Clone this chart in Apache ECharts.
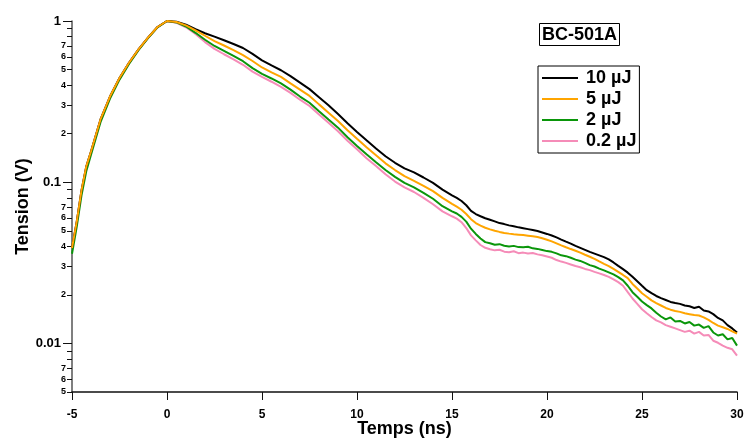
<!DOCTYPE html>
<html>
<head>
<meta charset="utf-8">
<script src="https://cdn.jsdelivr.net/npm/echarts@6/dist/echarts.min.js"></script>
<style>html,body{margin:0;padding:0;background:#fff;}#chart{width:744px;height:438px;}</style>
</head>
<body>
<div id="chart"></div>
<script>
// ---- data ----
const seriesNames = ['10 µJ', '5 µJ', '2 µJ', '0.2 µJ'];
const seriesColors = ['#000000', '#ffa500', '#0a960a', '#f58cb8'];
const timeNs = [-5, -4.75, -4.5, -4.25, -4, -3.5, -3, -2.5, -2, -1.5, -1, -0.5, 0,
  0.5, 1, 1.5, 2, 2.5, 3, 3.5, 4, 4.5, 5, 5.5, 6, 6.5, 7, 7.5, 8, 8.5, 9, 9.5, 10,
  10.5, 11, 11.5, 12, 12.5, 13, 13.5, 14, 14.5, 15,
  15.25, 15.5, 15.75, 16, 16.25, 16.5, 16.75, 17, 17.25, 17.5, 17.75, 18, 18.25, 18.5, 18.75, 19,
  19.25, 19.5, 19.75, 20, 20.25, 20.5, 20.75, 21, 21.25, 21.5, 21.75, 22, 22.25, 22.5, 22.75, 23,
  23.25, 23.5, 23.75, 24, 24.25, 24.5, 24.75, 25, 25.25, 25.5, 25.75, 26, 26.25, 26.5, 26.75, 27,
  27.25, 27.5, 27.75, 28, 28.25, 28.5, 28.75, 29, 29.25, 29.5, 29.75, 30];
const v10uJ = [0.039, 0.057, 0.089, 0.125, 0.155, 0.245, 0.340, 0.443, 0.551, 0.667, 0.788, 0.918, 1.0,
  0.99, 0.95, 0.89, 0.84, 0.80, 0.76, 0.72, 0.68, 0.625, 0.57, 0.53, 0.495, 0.455, 0.415, 0.378, 0.337, 0.30, 0.265, 0.232, 0.205,
  0.182, 0.162, 0.145, 0.132, 0.122, 0.115, 0.107, 0.099, 0.090, 0.083,
  0.080, 0.0765, 0.072, 0.0665, 0.0635, 0.0615, 0.0598, 0.0585, 0.0572, 0.0558, 0.0550, 0.0540, 0.0533, 0.0525, 0.0519, 0.0512,
  0.0505, 0.0498, 0.0488, 0.0478, 0.0467, 0.0455, 0.0441, 0.0428, 0.0416, 0.0403, 0.0392, 0.0381, 0.0370, 0.0361, 0.0352, 0.0343,
  0.0332, 0.0318, 0.0303, 0.0289, 0.0275, 0.0259, 0.0243, 0.0228, 0.0214, 0.0205, 0.0197, 0.0191, 0.0186, 0.0181, 0.0178, 0.0176,
  0.0172, 0.0170, 0.0166, 0.0169, 0.0160, 0.0158, 0.0152, 0.0144, 0.0139, 0.0130, 0.0124, 0.0117];
const v5uJ = [0.039, 0.057, 0.089, 0.125, 0.155, 0.245, 0.340, 0.443, 0.551, 0.667, 0.788, 0.918, 1.0,
  0.985, 0.94, 0.875, 0.81, 0.75, 0.705, 0.66, 0.615, 0.565, 0.515, 0.48, 0.45, 0.41, 0.375, 0.343, 0.304, 0.27, 0.24, 0.21, 0.186,
  0.165, 0.147, 0.131, 0.119, 0.109, 0.102, 0.095, 0.088, 0.080, 0.0735,
  0.0705, 0.0675, 0.0635, 0.059, 0.0558, 0.0538, 0.0522, 0.051, 0.0500, 0.0492, 0.0485, 0.0480, 0.0476, 0.0473, 0.0470, 0.0466,
  0.0462, 0.0457, 0.0449, 0.0440, 0.0430, 0.0418, 0.0406, 0.0395, 0.0385, 0.0376, 0.0366, 0.0355, 0.0345, 0.0335, 0.0323, 0.0312,
  0.0302, 0.0290, 0.0278, 0.0266, 0.0254, 0.0234, 0.0219, 0.0205, 0.0195, 0.0185, 0.0178, 0.0172, 0.0166, 0.0162, 0.0159, 0.0157,
  0.0154, 0.0152, 0.0150, 0.0149, 0.0145, 0.0140, 0.0134, 0.0129, 0.0126, 0.0123, 0.0119, 0.0115];
const v2uJ = [0.036, 0.053, 0.083, 0.117, 0.148, 0.236, 0.330, 0.433, 0.542, 0.659, 0.782, 0.914, 1.0,
  0.98, 0.925, 0.845, 0.765, 0.70, 0.652, 0.607, 0.563, 0.51, 0.47, 0.44, 0.41, 0.375, 0.34, 0.311, 0.276, 0.245, 0.218, 0.19, 0.168,
  0.149, 0.133, 0.119, 0.108, 0.099, 0.093, 0.086, 0.079, 0.071, 0.066,
  0.064, 0.061, 0.057, 0.0515, 0.0478, 0.0448, 0.0425, 0.0418, 0.0410, 0.0413, 0.0404, 0.0400, 0.0403, 0.0396, 0.0395, 0.0398,
  0.0389, 0.0386, 0.0380, 0.0374, 0.0370, 0.0362, 0.0352, 0.0348, 0.0340, 0.0331, 0.0325, 0.0316, 0.0306, 0.0300, 0.0291, 0.0284,
  0.0276, 0.0268, 0.0258, 0.0246, 0.0228, 0.0208, 0.0195, 0.0182, 0.0173, 0.0165, 0.0155, 0.0147, 0.0141, 0.0145, 0.0137, 0.0138,
  0.0133, 0.0136, 0.0129, 0.0131, 0.0125, 0.0128, 0.0117, 0.0112, 0.0114, 0.0106, 0.0108, 0.0097];
const v02uJ = [0.039, 0.057, 0.088, 0.124, 0.154, 0.244, 0.339, 0.442, 0.550, 0.666, 0.787, 0.917, 1.0,
  0.975, 0.915, 0.83, 0.74, 0.672, 0.622, 0.578, 0.535, 0.485, 0.45, 0.42, 0.39, 0.358, 0.325, 0.297, 0.263, 0.234, 0.207, 0.181, 0.16,
  0.141, 0.126, 0.112, 0.101, 0.093, 0.087, 0.080, 0.073, 0.066, 0.0615,
  0.0595, 0.0565, 0.052, 0.0468, 0.0436, 0.0408, 0.0392, 0.0384, 0.0378, 0.0381, 0.0371, 0.0368, 0.0373, 0.0363, 0.0366, 0.0361,
  0.0364, 0.0357, 0.0352, 0.0346, 0.0340, 0.0329, 0.0322, 0.0316, 0.0309, 0.0302, 0.0297, 0.0290, 0.0285, 0.0278, 0.0272, 0.0266,
  0.0259, 0.0250, 0.0240, 0.0228, 0.0208, 0.0190, 0.0176, 0.0163, 0.0154, 0.0146, 0.0139, 0.0135, 0.0130, 0.0127, 0.0124, 0.0121,
  0.0118, 0.0120, 0.0115, 0.0118, 0.0112, 0.0113, 0.0104, 0.0101, 0.0097, 0.0094, 0.0092, 0.0084];
const seriesValues = [v10uJ, v5uJ, v2uJ, v02uJ];
const seriesZ = [4, 5, 3, 2];
const yMajorTicks = [0.01, 0.1, 1];
const yMinorTicks = [0.005, 0.006, 0.007, 0.008, 0.009, 0.02, 0.03, 0.04, 0.05, 0.06, 0.07, 0.08, 0.09,
  0.2, 0.3, 0.4, 0.5, 0.6, 0.7, 0.8, 0.9];
const yMinorLabels = [0.005, 0.006, 0.007, 0.02, 0.03, 0.04, 0.05, 0.06, 0.07, 0.2, 0.3, 0.4, 0.5, 0.6, 0.7];
const xMin = -5, xMax = 30, xStep = 5;
const yMin = 0.005, yMax = 1;

// ---- chart ----
const FONT = 'Liberation Sans';
const chart = echarts.init(document.getElementById('chart'), null, {renderer: 'canvas'});
const fmtMajor = v => { const r = Number(v.toPrecision(2)); return r === 1 ? '1' : String(r); };
const fmtMinor = v => { const e = Math.floor(Math.log10(v) + 1e-9); return String(Math.round(v / Math.pow(10, e))); };

chart.setOption({
  animation: false,
  backgroundColor: '#fff',
  title: {
    text: 'BC-501A', left: 539, top: 23, padding: [2, 3, 1, 3],
    borderColor: '#000', borderWidth: 1,
    textStyle: {fontFamily: FONT, fontSize: 18, fontWeight: 'bold', color: '#000', lineHeight: 20}
  },
  legend: {
    orient: 'vertical', left: 538, top: 66, padding: [3, 3, 3, 4],
    borderColor: '#000', borderWidth: 1, borderRadius: 0,
    icon: 'rect', itemWidth: 36, itemHeight: 2, itemGap: 3,
    data: seriesNames,
    textStyle: {fontFamily: FONT, fontSize: 18, fontWeight: 'bold', color: '#000', lineHeight: 18, padding: [0, 0, 0, 3]}
  },
  grid: {left: 72, right: 7, top: 21, bottom: 46, containLabel: false, outerBoundsMode: 'none'},
  xAxis: {
    type: 'value', min: xMin, max: xMax, interval: xStep,
    name: 'Temps (ns)', nameLocation: 'middle', nameGap: 28, nameMoveOverlap: false,
    nameTextStyle: {fontFamily: FONT, fontSize: 18, fontWeight: 'bold', color: '#000'},
    axisLine: {show: true, onZero: false, lineStyle: {color: '#111', width: 1.5}},
    axisTick: {show: true, inside: false, length: 8, lineStyle: {color: '#111', width: 1}},
    axisLabel: {fontFamily: FONT, fontSize: 12, fontWeight: 'bold', color: '#000', margin: 17},
    splitLine: {show: false}
  },
  yAxis: [
    {
      type: 'log', min: yMin, max: yMax, logBase: 10, position: 'left',
      name: 'Tension (V)', nameLocation: 'middle', nameGap: 40, nameMoveOverlap: false,
      nameTextStyle: {fontFamily: FONT, fontSize: 18, fontWeight: 'bold', color: '#000'},
      axisLine: {show: true, onZero: false, lineStyle: {color: '#555', width: 1.5}},
      axisTick: {show: true, length: 9, customValues: yMajorTicks, lineStyle: {color: '#111', width: 1}},
      axisLabel: {show: true, customValues: yMajorTicks, formatter: fmtMajor, fontFamily: FONT, fontSize: 13, fontWeight: 'bold', color: '#000', margin: 11},
      splitLine: {show: false}, minorTick: {show: false}
    },
    {
      type: 'log', min: yMin, max: yMax, logBase: 10, position: 'left', offset: 0,
      axisLine: {show: false, onZero: false},
      axisTick: {show: true, length: 5, customValues: yMinorTicks, lineStyle: {color: '#111', width: 1}},
      axisLabel: {show: true, customValues: yMinorLabels, formatter: fmtMinor, fontFamily: FONT, fontSize: 9, fontWeight: 'bold', color: '#000', margin: 6},
      splitLine: {show: false}
    }
  ],
  series: seriesNames.map((name, i) => ({
    name: name, type: 'line', xAxisIndex: 0, yAxisIndex: 0,
    data: timeNs.map((t, k) => [t, seriesValues[i][k]]),
    showSymbol: false, symbol: 'none', z: seriesZ[i],
    lineStyle: {color: seriesColors[i], width: 2},
    itemStyle: {color: seriesColors[i]}
  }))
});
</script>
</body>
</html>
